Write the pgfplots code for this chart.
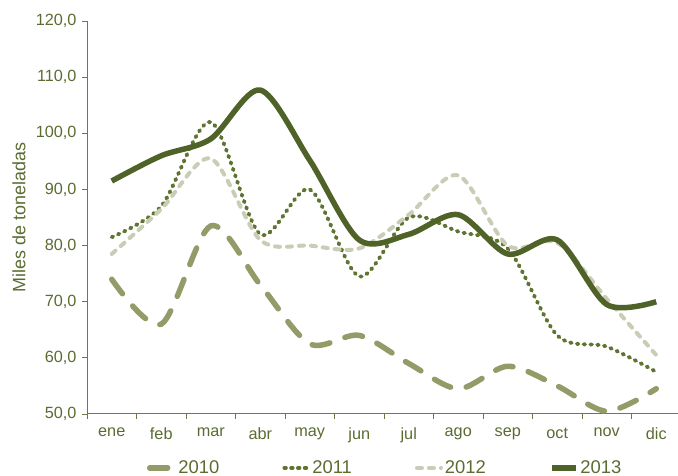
\documentclass[border=0pt]{standalone}
\usepackage{pgfplots}
\pgfplotsset{compat=1.18}
\usepackage{fontspec}
\setmainfont{Liberation Sans}
\definecolor{cA}{HTML}{939B68}
\definecolor{cB}{HTML}{5E7430}
\definecolor{cC}{HTML}{C9CDB5}
\definecolor{cD}{HTML}{4F6228}
\definecolor{txt}{HTML}{5A6C31}
\definecolor{axc}{HTML}{6A7B45}
\begin{document}
\begin{tikzpicture}
\useasboundingbox (0,0) rectangle (678bp,476bp);
\begin{axis}[
  at={(87bp,62bp)}, anchor=south west,
  width=594bp, height=393bp, scale only axis,
  xmin=-0.5, xmax=11.5, ymin=50, ymax=120,
  axis x line*=bottom, axis y line*=left,
  axis line style={-, draw=axc, line width=1bp},
  xtick={-0.5,0.5,...,11.5},
  xticklabels={ene,feb,mar,abr,may,jun,jul,ago,sep,oct,nov,dic},
  x tick label as interval,
  ytick={50,60,...,120},
  tick align=outside, major tick length=5bp,
  tick style={draw=axc, line width=0.8bp},
  /pgf/number format/fixed, /pgf/number format/zerofill, /pgf/number format/precision=1,
  /pgf/number format/use comma, /pgf/number format/assume math mode=true,
  tick label style={font=\fontsize{16.3}{18}\selectfont, text=txt},
  xticklabel style={yshift=-5bp},
  yticklabel style={xshift=-2bp},
  ylabel={Miles de toneladas},
  every axis y label/.style={at={(axis description cs:0,0.5)}, xshift=-68bp, rotate=90, anchor=center, font=\fontsize{18}{20}\selectfont, text=txt},
  legend columns=4,
  legend style={draw=none, fill=none, at={(axis description cs:0.502,-0.137)}, anchor=center, font=\fontsize{18.5}{20}\selectfont, text=txt,
    /tikz/every even column/.append style={column sep=61bp}},
  legend image code/.code={\draw[#1] (0bp,0bp) -- (24bp,0bp);},
]
\addplot[smooth, tension=0.5, cA, line width=5.5bp, line cap=round, dash pattern=on 18bp off 16bp] coordinates {
(0,74) (1,66) (2,83.5) (3,73) (4,62.5) (5,64) (6,59) (7,54.5) (8,58.5) (9,55) (10,50.5) (11,54.5)};
\addlegendentry{2010}
\addplot[smooth, tension=0.5, cB, line width=3.9bp, line cap=round, dash pattern=on 1.5bp off 5.3bp] coordinates {
(0,81.5) (1,87) (2,102) (3,82) (4,90) (5,74.5) (6,85) (7,82.5) (8,79.5) (9,64) (10,62) (11,57.5)};
\addlegendentry{2011}
\addplot[smooth, tension=0.5, cC, line width=4bp, line cap=round, dash pattern=on 5bp off 7bp] coordinates {
(0,78.5) (1,86.5) (2,95.5) (3,81) (4,80) (5,79.5) (6,85.5) (7,92.5) (8,80) (9,80.5) (10,70.5) (11,60.5)};
\addlegendentry{2012}
\addplot[smooth, tension=0.5, cD, line width=5.5bp] coordinates {
(0,91.5) (1,96) (2,99) (3,107.7) (4,95.2) (5,81) (6,82) (7,85.5) (8,78.5) (9,81) (10,69.5) (11,70)};
\addlegendentry{2013}
\end{axis}
\end{tikzpicture}
\end{document}
